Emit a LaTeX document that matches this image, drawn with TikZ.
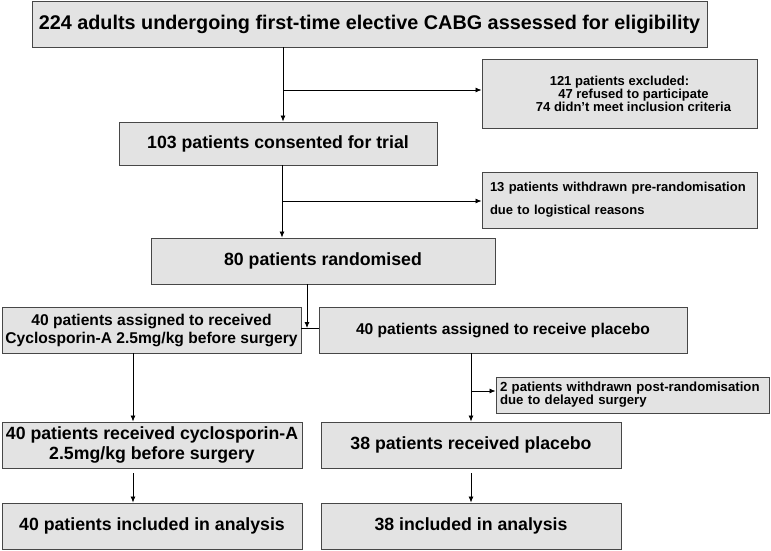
\documentclass[tikz,border=0pt]{standalone}
\usepackage{fontspec}
\setmainfont{Liberation Sans}
\usetikzlibrary{arrows.meta}

\begin{document}
\begin{tikzpicture}[x=1pt,y=-1pt,
  box/.style={draw=black!72,fill=black!11,line width=0.9pt,inner sep=0pt,align=center},
  huge/.style={font=\bfseries\fontsize{19.8}{22}\selectfont},
  big/.style={font=\bfseries\fontsize{17.7}{20}\selectfont},
  mid/.style={font=\bfseries\fontsize{15.6}{18}\selectfont},
  small/.style={font=\bfseries\fontsize{13}{12}\selectfont},
  line/.style={line width=0.8pt},
  >={Latex[length=6pt,width=5pt]}]
 \useasboundingbox (0,0) rectangle (771,550);
 \node[box,huge,minimum width=675pt,minimum height=46pt] (screen) at (369.5,24)
  {224 adults undergoing first-time elective CABG assessed for eligibility};
 \node[box,small,minimum width=275pt,minimum height=69pt] (excl) at (619.5,93.5)
  {121 patients excluded:\\\hspace*{28pt}47 refused to participate\\\hspace*{28pt}74 didn't meet inclusion criteria};
 \node[box,big,minimum width=318pt,minimum height=43pt] (consent) at (278,143.5)
  {103 patients consented for trial};
 \node[box,align=left,text width=259pt,inner xsep=8pt,minimum height=56pt,font=\bfseries\fontsize{13}{23}\selectfont] (prewd) at (619.5,200)
  {13 patients withdrawn pre-randomisation\\due to logistical reasons};
 \node[box,big,minimum width=344pt,minimum height=46pt] (rand) at (323,261)
  {80 patients randomised};
 \node[box,mid,minimum width=299pt,minimum height=46pt] (cyclo) at (151.5,330)
  {40 patients assigned to received\\Cyclosporin-A 2.5mg/kg before surgery};
 \node[box,mid,minimum width=368pt,minimum height=46pt] (plac) at (503,330)
  {40 patients assigned to receive placebo};
 \node[box,align=left,text width=265pt,inner xsep=4pt,minimum height=36pt,font=\bfseries\fontsize{13.2}{13}\selectfont] (postwd) at (632.5,395)
  {2 patients withdrawn post-randomisation\\due to delayed surgery};
 \node[box,big,minimum width=300pt,minimum height=46pt,font=\bfseries\fontsize{17.7}{20}\selectfont] (cycrec) at (152,445)
  {40 patients received cyclosporin-A\\2.5mg/kg before surgery};
 \node[box,big,minimum width=300pt,minimum height=46pt] (placrec) at (471,445)
  {38 patients received placebo};
 \node[box,big,minimum width=300pt,minimum height=46pt] (cycana) at (152,526)
  {40 patients included in analysis};
 \node[box,big,minimum width=300pt,minimum height=46pt] (placana) at (471,526)
  {38 included in analysis};

 \coordinate (b1) at (283,90);
 \coordinate (b2) at (282,201);
 \coordinate (b3) at (471,391);
 \coordinate (m1) at (307,328);
 \coordinate (c1) at (133,470);
 \coordinate (c2) at (471,470);
 \draw[line,->] (screen.south -| b1) -- (consent.north -| b1);
 \draw[line,->] (b1) -- (b1 -| excl.west);
 \draw[line,->] (consent.south -| b2) -- (rand.north -| b2);
 \draw[line,->] (b2) -- (b2 -| prewd.west);
 \draw[line] (cyclo.east |- m1) -- (plac.west |- m1);
 \draw[line,->] (rand.south -| m1) -- (m1);
 \draw[line,->] (cyclo.south -| c1) -- (cycrec.north -| c1);
 \draw[line,->] (plac.south -| b3) -- (placrec.north -| b3);
 \draw[line,->] (b3) -- (b3 -| postwd.west);
 \draw[line,->] (c1 |- cycrec.south) ++(0,5) -- (cycana.north -| c1);
 \draw[line,->] (c2 |- placrec.south) ++(0,5) -- (placana.north -| c2);
\end{tikzpicture}
\end{document}
